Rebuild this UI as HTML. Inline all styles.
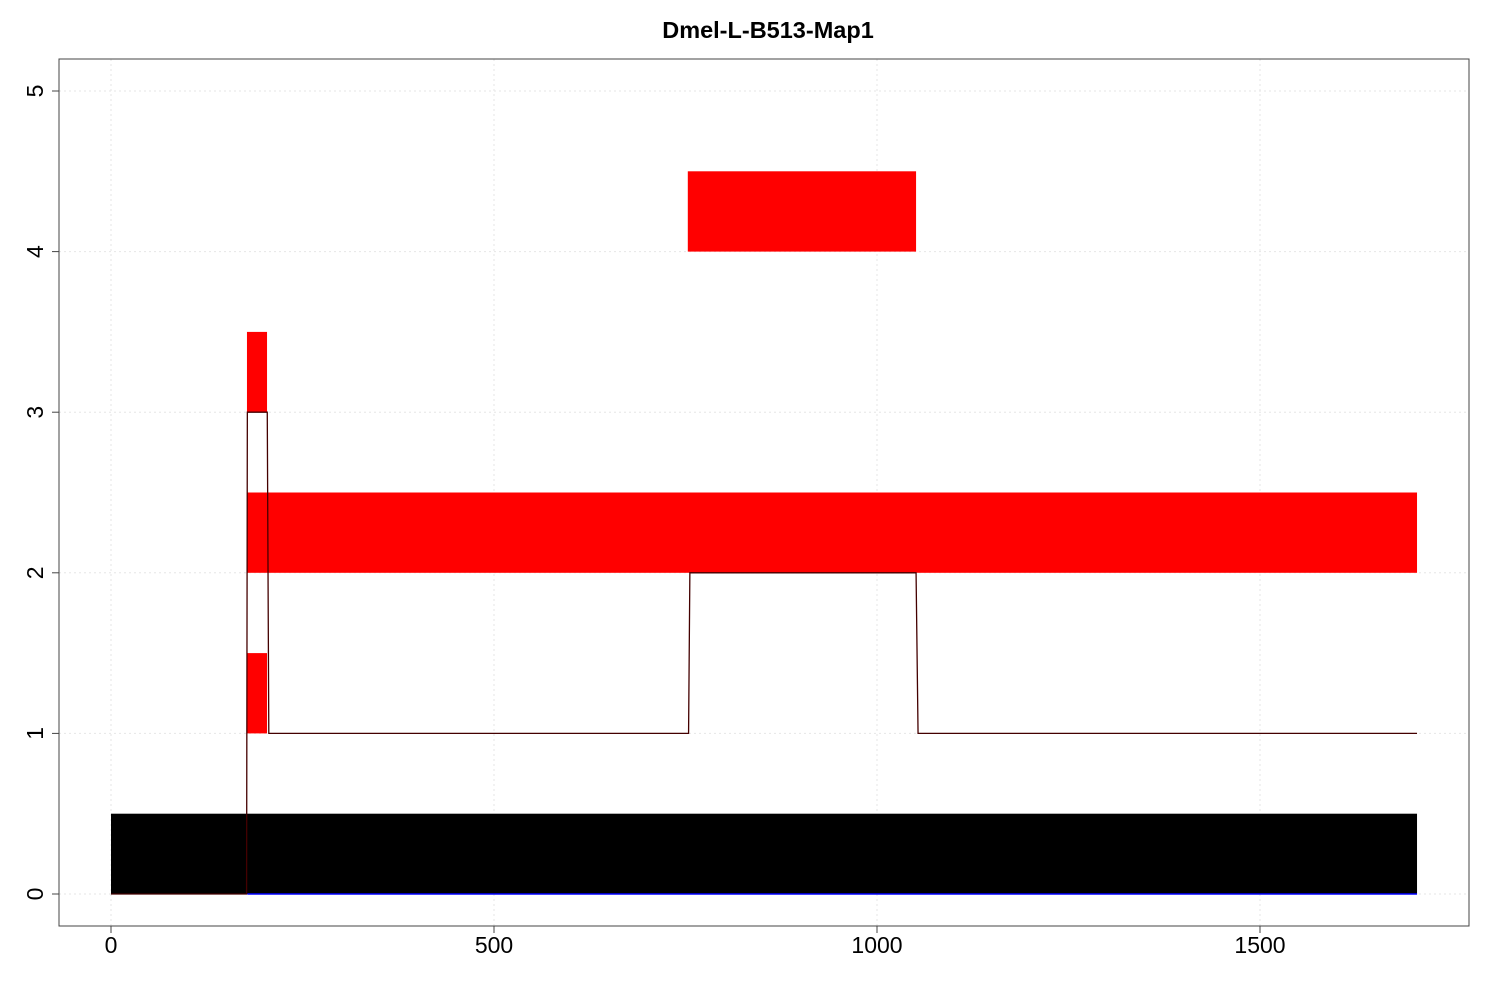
<!DOCTYPE html>
<html><head><meta charset="utf-8"><style>
body{margin:0;background:#fff}
svg text{font-family:"Liberation Sans",sans-serif}
</style></head><body>
<svg id="chart" width="1500" height="1000" xmlns="http://www.w3.org/2000/svg">
<rect width="1500" height="1000" fill="#fff"/>
<text x="768" y="38" text-anchor="middle" font-size="23.5" font-weight="bold">Dmel-L-B513-Map1</text>
<g id="grid"></g>
<g id="rects"></g>
<g id="lines"></g>
<rect x="59" y="59" width="1410" height="867" fill="none" stroke="#444" stroke-width="1"/>
<g id="axes"></g>
</svg>
<script>
const xTicks = [0, 500, 1000, 1500];
const yTicks = [0, 1, 2, 3, 4, 5];
const rectX0 = [0, 177.5, 177.5, 177.5, 753];
const rectX1 = [1705, 203.7, 1705, 203.7, 1051];
const rectY0 = [0, 1, 2, 3, 4];
const rectY1 = [0.5, 1.5, 2.5, 3.5, 4.5];
const rectFill = ['#000', '#f00', '#f00', '#f00', '#f00'];
const covX = [0, 177, 178, 204, 206, 754, 755.7, 1051, 1053.6, 1705];
const covY = [0, 0, 3, 3, 1, 1, 2, 2, 1, 1];
const baseX = [178, 1705];
const baseY = [0, 0];

const sx = v => 111 + v * 0.766;
const sy = v => 894 - v * 160.6;
const NS = 'http://www.w3.org/2000/svg';
function mk(tag, attrs, parent){const e=document.createElementNS(NS,tag);for(const k in attrs)e.setAttribute(k,attrs[k]);document.getElementById(parent).appendChild(e);return e;}

xTicks.forEach(t=>{
  const g=mk('line',{x1:sx(t),x2:sx(t),y1:59,y2:926,stroke:'#e6e6e6','stroke-dasharray':'2,3'},'grid');
  
  
  const tk=mk('line',{x1:sx(t),x2:sx(t),y1:926,y2:933,stroke:'#444'},'axes');
  
  
  const tx=mk('text',{x:sx(t),y:953,'text-anchor':'middle','font-size':23},'axes');
  tx.textContent=t;
  
  
});
yTicks.forEach(t=>{
  const g=mk('line',{x1:59,x2:1469,y1:sy(t),y2:sy(t),stroke:'#e6e6e6','stroke-dasharray':'2,3'},'grid');
  
  
  const tk=mk('line',{x1:52,x2:59,y1:sy(t),y2:sy(t),stroke:'#444'},'axes');
  
  
  const tx=mk('text',{x:43,y:sy(t),'text-anchor':'middle','font-size':23,transform:`rotate(-90 43 ${sy(t)})`},'axes');
  tx.textContent=t;
  
  
});
rectX0.forEach((x0,i)=>{
  const r=mk('rect',{x:sx(x0),y:sy(rectY1[i]),width:sx(rectX1[i])-sx(x0),height:sy(rectY0[i])-sy(rectY1[i]),fill:rectFill[i]},'rects');
  
  
});
const bl=mk('polyline',{points:baseX.map((x,i)=>sx(x)+','+sy(baseY[i])).join(' '),fill:'none',stroke:'#00f','stroke-width':1.5},'lines');


const cl=mk('polyline',{points:covX.map((x,i)=>sx(x)+','+sy(covY[i])).join(' '),fill:'none',stroke:'#400','stroke-width':1.3},'lines');


</script>
</body></html>
